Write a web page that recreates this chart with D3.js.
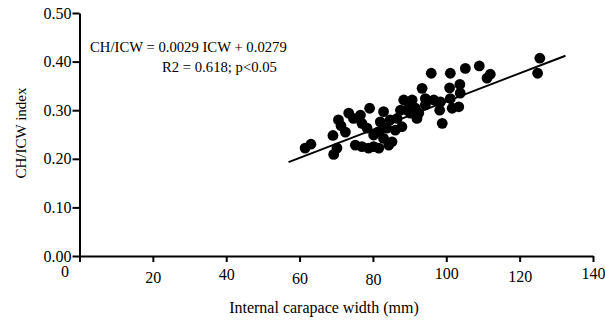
<!DOCTYPE html>
<html>
<head>
<meta charset="utf-8">
<script src="https://cdn.jsdelivr.net/npm/d3@7"></script>
<style>
  body { margin: 0; background: #fff; }
  svg, svg text { font-family: 'Liberation Serif', 'Times New Roman', serif; }
</style>
</head>
<body>
<div id="chart"></div>
<script>
// internal carapace width (mm) vs CH/ICW index
const widths = [61.5, 63.1, 69.1, 69.3, 70.2, 70.6, 71.3, 72.5, 73.4, 74.7, 76.6, 77.0, 79.1, 78.4, 75.2, 77.0,
  78.8, 80.2, 81.6, 82.9, 82.0, 81.6, 82.9, 84.3, 83.8, 85.2, 86.6, 87.5, 88.4, 86.1, 89.7, 80.2, 95.9, 101.1,
  105.2, 109.0, 111.1, 112.0, 93.4, 100.9, 103.7, 103.8, 90.7, 94.3, 96.6, 98.4, 101.1, 103.4, 101.6, 98.2,
  91.6, 92.5, 92.0, 98.9, 89.3, 87.9, 94.3, 125.5, 124.9, 84.7, 90.2];
const indexes = [0.222, 0.230, 0.248, 0.209, 0.222, 0.280, 0.268, 0.255, 0.294, 0.283, 0.290, 0.273, 0.304, 0.263,
  0.228, 0.225, 0.222, 0.225, 0.222, 0.297, 0.276, 0.256, 0.242, 0.228, 0.263, 0.235, 0.283, 0.300, 0.321, 0.259,
  0.304, 0.249, 0.376, 0.376, 0.386, 0.391, 0.366, 0.374, 0.345, 0.346, 0.353, 0.335, 0.321, 0.324, 0.321, 0.317,
  0.324, 0.307, 0.304, 0.300, 0.304, 0.294, 0.283, 0.273, 0.300, 0.266, 0.311, 0.407, 0.376, 0.280, 0.294];
const xTicks = [0, 20, 40, 60, 80, 100, 120, 140];
const yTicks = [0, 0.1, 0.2, 0.3, 0.4, 0.5];
const fitSlope = 0.0029, fitIntercept = 0.0279;
const fitRange = [57, 132.5];
const eqLines = ['CH/ICW = 0.0029 ICW + 0.0279', 'R2 = 0.618; p<0.05'];

const W = 605, H = 322;
const serif = "'Liberation Serif', 'Times New Roman', serif";
const svg = d3.select('#chart').append('svg').attr('width', W).attr('height', H);

const x = d3.scaleLinear().domain([0, 140]).range([79.5, 593]);
const y = d3.scaleLinear().domain([0, 0.5]).range([256, 13]);

// y axis
const yAxis = svg.append('g').attr('transform', `translate(${x(0)},0)`)
  .call(d3.axisLeft(y).tickValues(yTicks).tickFormat(d3.format('.2f')).tickSize(7).tickSizeOuter(0).tickPadding(1))
  .attr('font-family', serif).attr('font-size', 16);
yAxis.select('.domain').attr('stroke-width', 2);
yAxis.selectAll('.tick line').attr('stroke-width', 2);
yAxis.selectAll('text').attr('fill', '#000').style('font-family', serif);

// x axis (labels in the original sit a little unevenly)
const labelNudge = [-4, 2, -1, 3, 4, -2, 1, -2];
const xAxis = svg.append('g').attr('transform', `translate(0,${y(0)})`)
  .call(d3.axisBottom(x).tickValues(xTicks).tickSize(6).tickSizeOuter(0).tickPadding(8))
  .attr('font-family', serif).attr('font-size', 16);
xAxis.select('.domain').attr('stroke-width', 2);
xAxis.selectAll('.tick line').attr('stroke-width', 2);
xAxis.selectAll('text').attr('fill', '#000').style('font-family', serif)
  .attr('dy', (d, i) => (0.71 * 16 + labelNudge[i]) + 'px')
  .attr('dx', d => d === 0 ? -15 : 0);

// axis titles
svg.append('text').attr('x', 324).attr('y', 313).attr('text-anchor', 'middle')
  .attr('font-size', 16).text('Internal carapace width (mm)');
svg.append('text').attr('transform', 'translate(26,133) rotate(-90)').attr('text-anchor', 'middle')
  .attr('font-size', 15).text('CH/ICW index');

// regression line
svg.append('line')
  .attr('x1', x(fitRange[0])).attr('y1', y(fitSlope * fitRange[0] + fitIntercept))
  .attr('x2', x(fitRange[1])).attr('y2', y(fitSlope * fitRange[1] + fitIntercept))
  .attr('stroke', '#000').attr('stroke-width', 2);

// points
svg.append('g').selectAll('circle').data(widths).join('circle')
  .attr('cx', d => x(d)).attr('cy', (d, i) => y(indexes[i])).attr('r', 5.4).attr('fill', '#000');

// equation
svg.append('text').attr('x', 90).attr('y', 52).attr('font-size', 14.7).text(eqLines[0]);
svg.append('text').attr('x', 162).attr('y', 72).attr('font-size', 14.7).text(eqLines[1]);
</script>
</body>
</html>
